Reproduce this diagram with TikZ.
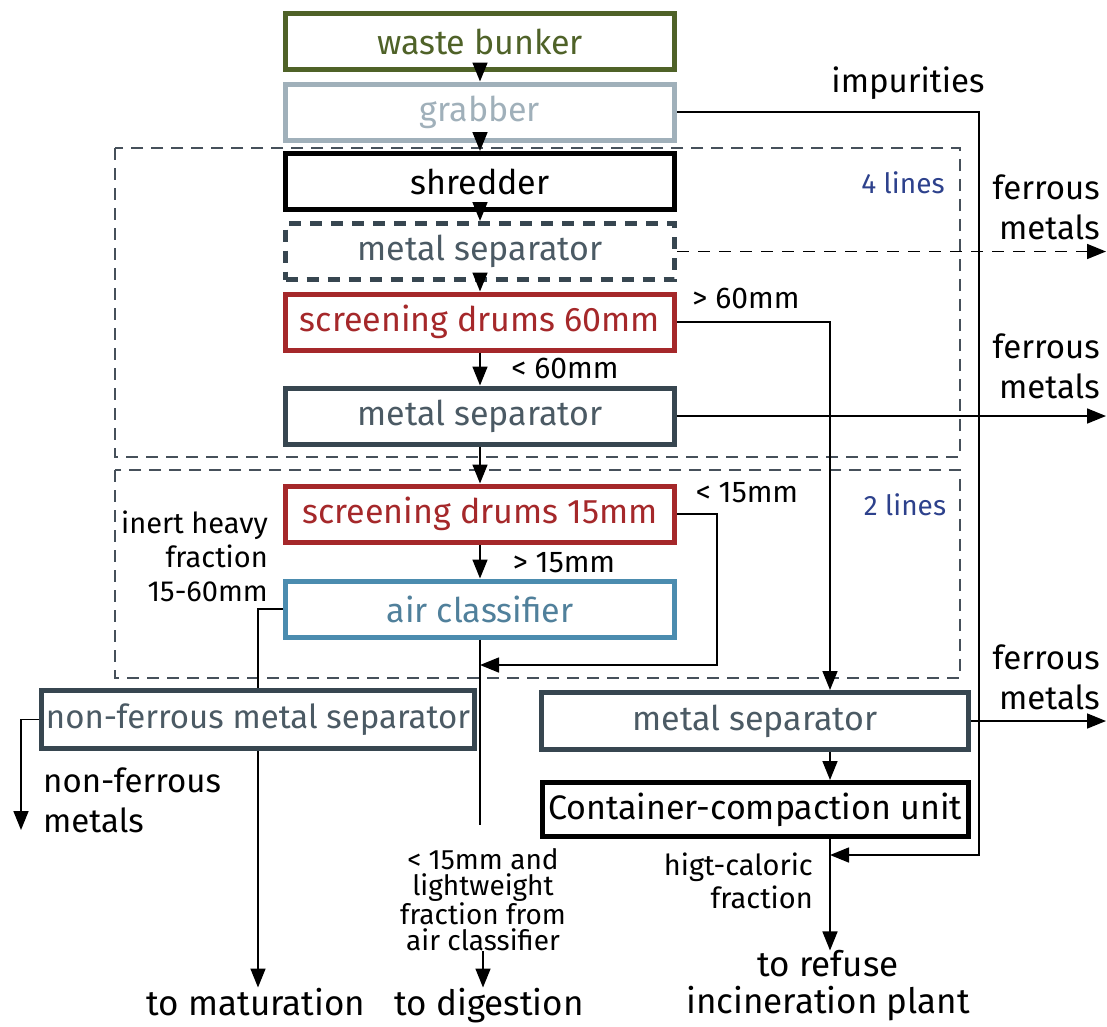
\documentclass[tikz,border=0pt]{standalone}
\usepackage{fontspec}
\setmainfont{Fira Sans}
\usetikzlibrary{arrows.meta}

\definecolor{bunkergreen}{RGB}{79,98,40}
\definecolor{grabgray}{RGB}{160,176,186}
\definecolor{slate}{RGB}{55,70,80}
\definecolor{slatetext}{RGB}{75,90,100}
\definecolor{drumred}{RGB}{165,40,42}
\definecolor{airblue}{RGB}{75,140,175}
\definecolor{airtext}{RGB}{80,128,155}
\definecolor{linesblue}{RGB}{45,65,140}
\definecolor{regiongray}{RGB}{70,80,90}

\newcommand{\boxfont}{\fontsize{34}{36}\selectfont}
\newcommand{\notefont}{\fontsize{33}{40}\selectfont}
\newcommand{\dimfont}{\fontsize{30}{34}\selectfont}
\newcommand{\exitfont}{\fontsize{35}{37}\selectfont}
\newcommand{\smallnote}{\fontsize{28}{26}\selectfont}

\tikzset{
  unit/.style={draw, fill=white, line width=5pt, minimum width=389pt,
    minimum height=56pt, inner sep=0pt, font=\boxfont},
  flow/.style={line width=1.6pt, -{Triangle[length=19pt,width=15pt]}},
  link/.style={line width=1.6pt},
  note/.style={font=\notefont, inner sep=0pt, align=center},
  region/.style={draw=regiongray, line width=1.4pt, dash pattern=on 12pt off 8pt}
}

\begin{document}
\begin{tikzpicture}[x=1pt, y=-1pt]
  \useasboundingbox (0,0) rectangle (1107,1026);

  % Dashed regions (4 lines / 2 lines)
  \draw[region] (115,148) rectangle (960,457);
  \draw[region] (115,470) rectangle (960,678);
  \node[note, font=\fontsize{28}{30}\selectfont, text=linesblue] (four) at (903,183) {4 lines};
  \node[note, font=\fontsize{28}{30}\selectfont, text=linesblue] (two) at (905,505) {2 lines};

  % Main column
  \node[unit, draw=bunkergreen, text=bunkergreen] (bunker) at (480,41.5) {waste bunker};
  \node[unit, draw=grabgray, text=grabgray] (grabber) at (480,112) {grabber};
  \node[unit, draw=black] (shredder) at (480,181.5) {shredder};
  \node[unit, draw=slate, text=slatetext, dash pattern=on 12pt off 9pt] (msepA) at (480,251.5) {metal separator};
  \node[unit, draw=drumred, text=drumred] (drumA) at (480,322) {screening drums 60mm};
  \node[unit, draw=slate, text=slatetext] (msepB) at (480,416) {metal separator};
  \node[unit, draw=drumred, text=drumred] (drumB) at (480,514) {screening drums 15mm};
  \node[unit, draw=airblue, text=airtext] (aircl) at (480,609) {air classifier};

  % Lower units
  \node[unit, draw=slate, text=slatetext, minimum width=433pt, minimum height=58pt,
    font=\fontsize{33}{36}\selectfont] (nonferr) at (258,719.5) {non-ferrous metal separator};
  \node[unit, draw=slate, text=slatetext, minimum width=427pt, minimum height=57pt] (msepC) at (755,721) {metal separator};
  \node[unit, draw=black, minimum width=426pt, minimum height=54pt] (container) at (755,809.5) {Container-compaction unit};

  % Helper coordinates
  \coordinate (rim) at (1106,0);
  \coordinate (bigx) at (830,0);
  \coordinate (impx) at (979,855);
  \coordinate (back) at (717,665);
  \coordinate (digend) at (480,825);
  \coordinate (nfout) at (21,830);

  % Labels
  \node[note] (imp) at (908,83) {impurities};
  \node[note, anchor=east, align=right] (ferrA) at (1100,207) {ferrous\\metals};
  \node[note, anchor=east, align=right] (ferrB) at (1100,366) {ferrous\\metals};
  \node[note, anchor=east, align=right] (ferrC) at (1100,677) {ferrous\\metals};
  \node[note, font=\dimfont] (gt60) at (746,298) {> 60mm};
  \node[note, font=\dimfont] (lt60) at (565,368) {< 60mm};
  \node[note, font=\dimfont] (lt15) at (747,493) {< 15mm};
  \node[note, font=\dimfont] (gt15) at (564,563) {> 15mm};
  \node[note, anchor=east, align=right, font=\fontsize{29}{34}\selectfont] (inert) at (268,556) {inert heavy\\fraction\\15-60mm};
  \node[note, anchor=west, align=left] (nfmet) at (43,800) {non-ferrous\\metals};
  \node[note, font=\smallnote] (light) at (483,900) {< 15mm and\\lightweight\\fraction from\\air classifier};
  \node[note, anchor=east, align=right, font=\fontsize{29}{33}\selectfont] (hical) at (813,881) {higt-caloric\\fraction};
  \node[note, font=\exitfont] (refuse) at (828,986) {to refuse\\incineration plant};
  \node[note, font=\exitfont, anchor=base] (tomat) at (256,1015) {to maturation};
  \node[note, font=\exitfont, anchor=base] (todig) at (489,1015) {to digestion};

  % Main flow
  \draw[flow] (bunker) -- (grabber);
  \draw[flow] (grabber) -- (shredder);
  \draw[flow] (shredder) -- (msepA);
  \draw[flow] (msepA) -- (drumA);
  \draw[flow] (drumA) -- (msepB);
  \draw[flow] (msepB) -- (drumB);
  \draw[flow] (drumB) -- (aircl);

  % Side streams
  \draw[flow] (grabber.east) -| (impx) -- (bigx |- impx);
  \draw[flow, dash pattern=on 12pt off 9pt] (msepA.east) -- (msepA.east -| rim);
  \draw[flow] (msepB.east) -- (msepB.east -| rim);
  \draw[flow] (msepC.east) -- (msepC.east -| rim);
  \draw[flow] (drumA.east) -| (bigx |- msepC.north);
  \draw[flow] (drumB.east) -| (back) -- (aircl.south |- back);
  \draw[link] (aircl.south) -- (digend);
  \draw[link] (aircl.west) -| (nonferr.north);
  \draw[flow] (nonferr.west) -| (nfout);
  \draw[flow] (nonferr.south) -- (nonferr.south |- tomat.north);
  \draw[flow] (light.south) -- (light.south |- todig.north);
  \draw[flow] (bigx |- msepC.south) -- (bigx |- container.north);
  \draw[flow] (bigx |- container.south) -- (bigx |- refuse.north);
\end{tikzpicture}
\end{document}
